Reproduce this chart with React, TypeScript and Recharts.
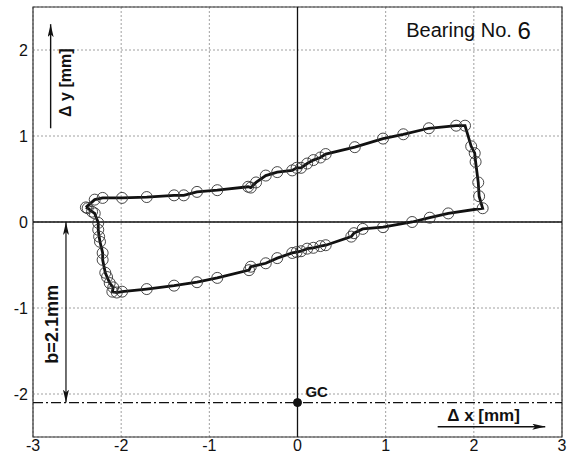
import React from 'react';
import {
  ScatterChart,
  Scatter,
  XAxis,
  YAxis,
  CartesianGrid,
  ReferenceLine,
  ReferenceArea,
  ReferenceDot,
  Customized,
} from 'recharts';

// measured orbit, one lap: upper branch, right flank, lower branch, left flank
const orbitX = [
  -2.4, -2.3, -2.21, -1.99, -1.71, -1.4, -1.29, -1.14, -0.91, -0.56, -0.53, -0.47, -0.36, -0.23, -0.06, -0.01,
  0.04, 0.11, 0.18, 0.26, 0.32, 0.65, 0.97, 1.2, 1.49, 1.8, 1.9,
  1.97, 2.01, 2.02, 2.05, 2.06, 2.1,
  1.71, 1.5, 1.3, 0.97, 0.74, 0.64, 0.61, 0.32, 0.26, 0.18, 0.11, 0.04, -0.01, -0.06, -0.23, -0.36, -0.53,
  -0.55, -0.91, -1.14, -1.4, -1.71, -1.99, -2.05, -2.1,
  -2.09, -2.13, -2.16, -2.18, -2.21, -2.21, -2.24, -2.25, -2.26, -2.26, -2.3, -2.33, -2.38,
];
const orbitY = [
  0.17, 0.26, 0.28, 0.28, 0.29, 0.31, 0.31, 0.35, 0.37, 0.41, 0.4, 0.46, 0.54, 0.58, 0.6, 0.63,
  0.63, 0.68, 0.72, 0.75, 0.79, 0.87, 0.97, 1.02, 1.09, 1.12, 1.12,
  0.88, 0.8, 0.7, 0.46, 0.3, 0.16,
  0.1, 0.05, 0.0, -0.06, -0.08, -0.13, -0.17, -0.27, -0.28, -0.3, -0.31, -0.34, -0.35, -0.36, -0.42, -0.48, -0.52,
  -0.56, -0.65, -0.7, -0.74, -0.78, -0.81, -0.82, -0.81,
  -0.76, -0.71, -0.64, -0.59, -0.44, -0.36, -0.23, -0.17, -0.09, -0.01, 0.1, 0.12, 0.16,
];

const xTicks = [-3, -2, -1, 0, 1, 2, 3];
const yTicks = [-2, -1, 0, 1, 2];
const gapB = 2.1; // distance to geometric centre

const points = orbitX.map((x, i) => ({ x, y: orbitY[i] }));
// closing segment back to the first point
const loop = [...points, points[0]];

const FONT = '"Liberation Sans", Arial, Helvetica, sans-serif';

const OpenCircle = (props: any) => (
  <circle cx={props.cx} cy={props.cy} r={5.5} fill="none" stroke="#333" strokeWidth={0.9} />
);
const NoShape = () => <g />;

const Arrows = () => (
  <defs>
    <marker id="arrowHead" markerUnits="userSpaceOnUse" markerWidth={13} markerHeight={6} refX={13} refY={3} orient="auto-start-reverse">
      <path d="M0,0 L13,3 L0,6 L3,3 z" fill="#111" />
    </marker>
  </defs>
);

const textAt = (txt: string, opts: { size: number; bold?: boolean; rotate?: boolean; anchor?: string }) => (p: any) => (
  <text
    x={p.cx}
    y={p.cy}
    fontFamily={FONT}
    fontSize={opts.size}
    fontWeight={opts.bold ? 'bold' : 'normal'}
    fill="#111"
    textAnchor={opts.anchor || 'middle'}
    dominantBaseline="central"
    transform={opts.rotate ? `rotate(-90 ${p.cx} ${p.cy})` : undefined}
  >
    {txt}
  </text>
);

const TitleShape = (p: any) => (
  <text x={p.cx} y={p.cy} fontFamily={FONT} fontSize={20} fill="#111" textAnchor="middle" dominantBaseline="central">
    Bearing No. <tspan fontSize={24}>6</tspan>
  </text>
);

export default function App() {
  return (
    <div style={{ position: 'absolute', left: 0, top: 0, width: 568, height: 461, background: '#fff' }}>
      <ScatterChart width={568} height={461} margin={{ top: 7, right: 6, bottom: 0, left: 0 }}>
        <Customized component={Arrows} />
        <CartesianGrid stroke="#888" strokeDasharray="2 2" strokeWidth={0.8} />
        <XAxis
          type="number"
          dataKey="x"
          domain={[-3, 3]}
          ticks={xTicks}
          height={24}
          axisLine={false}
          tickLine={false}
          tickSize={0}
          tickMargin={3}
          tick={{ fontSize: 16, fill: '#111', fontFamily: FONT }}
          allowDataOverflow
        />
        <YAxis
          type="number"
          dataKey="y"
          domain={[-2.5, 2.5]}
          ticks={yTicks}
          width={33}
          axisLine={false}
          tickLine={false}
          tickSize={0}
          tickMargin={5}
          tick={{ fontSize: 16, fill: '#111', fontFamily: FONT }}
          allowDataOverflow
        />
        <ReferenceArea x1={-3} x2={3} y1={-2.5} y2={2.5} fill="none" stroke="#333" strokeWidth={1.2} ifOverflow="visible" />
        <ReferenceLine x={0} stroke="#111" strokeWidth={1.3} />
        <ReferenceLine y={0} stroke="#111" strokeWidth={1.3} />
        <ReferenceLine y={-gapB} stroke="#111" strokeWidth={1.4} strokeDasharray="10 3 2 3" />

        {/* annotation arrows */}
        <ReferenceLine segment={[{ x: -2.8, y: 1.09 }, { x: -2.8, y: 2.3 }]} stroke="#111" strokeWidth={1.4} markerEnd="url(#arrowHead)" />
        <ReferenceLine
          segment={[{ x: -2.626, y: 0 }, { x: -2.626, y: -gapB }]}
          stroke="#111"
          strokeWidth={1.2}
          markerStart="url(#arrowHead)"
          markerEnd="url(#arrowHead)"
        />
        <ReferenceLine segment={[{ x: 1.59, y: -2.38 }, { x: 2.81, y: -2.38 }]} stroke="#111" strokeWidth={1.4} markerEnd="url(#arrowHead)" />

        <Scatter data={loop} line={{ stroke: '#111', strokeWidth: 2.8 }} lineType="joint" shape={NoShape} isAnimationActive={false} />
        <Scatter data={points} shape={OpenCircle} isAnimationActive={false} />

        <ReferenceDot x={0} y={-gapB} r={4} fill="#111" stroke="#111" />
        <ReferenceDot x={0.09} y={-1.97} shape={textAt('GC', { size: 15, bold: true, anchor: 'start' })} />
        <ReferenceDot x={-2.626} y={1.62} shape={textAt('\u0394 y [mm]', { size: 16, bold: true, rotate: true })} />
        <ReferenceDot x={-2.78} y={-1.19} shape={textAt('b=2.1mm', { size: 18, bold: true, rotate: true })} />
        <ReferenceDot x={2.11} y={-2.25} shape={textAt('\u0394 x [mm]', { size: 17, bold: true })} />
        <ReferenceDot x={1.94} y={2.23} shape={TitleShape} />
      </ScatterChart>
    </div>
  );
}
